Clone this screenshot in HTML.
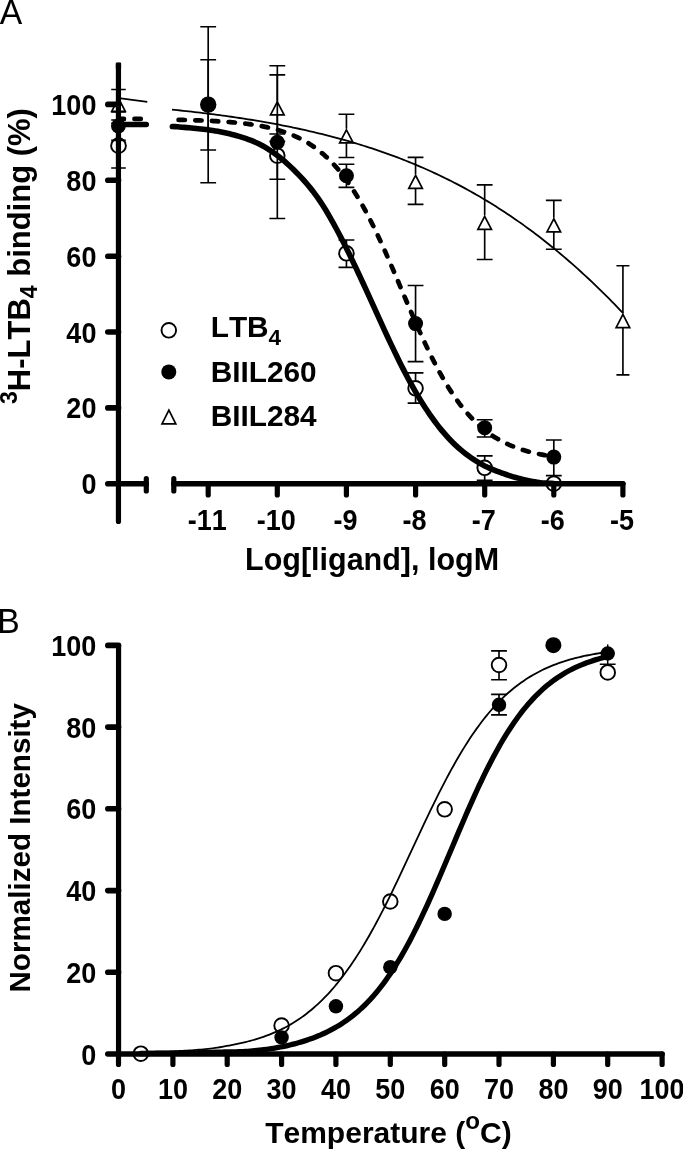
<!DOCTYPE html>
<html><head><meta charset="utf-8"><title>Figure</title>
<style>html,body{margin:0;padding:0;background:#fff}svg{display:block}text{font-kerning:none}</style></head>
<body>
<svg width="683" height="1149" viewBox="0 0 683 1149">
<rect width="683" height="1149" fill="#fff"/>
<text transform="translate(-0.3,23.7) scale(1,1.04)" font-size="33.7" font-family="Liberation Sans, Arial, Helvetica, sans-serif" fill="#000">A</text>
<text transform="translate(-2.7,632.8) scale(1,1.04)" font-size="33.7" font-family="Liberation Sans, Arial, Helvetica, sans-serif" fill="#000">B</text>
<path d="M172.00,109.64 L174.82,109.93 L177.64,110.22 L180.45,110.51 L183.27,110.81 L186.09,111.11 L188.91,111.42 L191.73,111.73 L194.55,112.05 L197.36,112.38 L200.18,112.71 L203.00,113.05 L205.82,113.39 L208.64,113.74 L211.46,114.09 L214.27,114.45 L217.09,114.82 L219.91,115.20 L222.73,115.58 L225.55,115.96 L228.37,116.36 L231.18,116.76 L234.00,117.16 L236.82,117.58 L239.64,118.00 L242.46,118.43 L245.27,118.87 L248.09,119.31 L250.91,119.76 L253.73,120.22 L256.55,120.69 L259.37,121.17 L262.18,121.65 L265.00,122.14 L267.82,122.64 L270.64,123.15 L273.46,123.67 L276.28,124.20 L279.09,124.73 L281.91,125.28 L284.73,125.83 L287.55,126.39 L290.37,126.97 L293.18,127.55 L296.00,128.14 L298.82,128.75 L301.64,129.36 L304.46,129.98 L307.28,130.61 L310.09,131.26 L312.91,131.91 L315.73,132.58 L318.55,133.26 L321.37,133.95 L324.19,134.65 L327.00,135.36 L329.82,136.08 L332.64,136.81 L335.46,137.56 L338.28,138.32 L341.10,139.09 L343.91,139.88 L346.73,140.68 L349.55,141.49 L352.37,142.31 L355.19,143.15 L358.00,144.00 L360.82,144.86 L363.64,145.74 L366.46,146.64 L369.28,147.54 L372.10,148.47 L374.91,149.40 L377.73,150.35 L380.55,151.32 L383.37,152.30 L386.19,153.30 L389.01,154.31 L391.82,155.34 L394.64,156.39 L397.46,157.45 L400.28,158.53 L403.10,159.62 L405.91,160.74 L408.73,161.87 L411.55,163.01 L414.37,164.18 L417.19,165.36 L420.01,166.56 L422.82,167.78 L425.64,169.02 L428.46,170.27 L431.28,171.55 L434.10,172.84 L436.92,174.16 L439.73,175.49 L442.55,176.84 L445.37,178.22 L448.19,179.61 L451.01,181.02 L453.82,182.46 L456.64,183.91 L459.46,185.39 L462.28,186.89 L465.10,188.41 L467.92,189.95 L470.73,191.51 L473.55,193.09 L476.37,194.70 L479.19,196.33 L482.01,197.98 L484.83,199.66 L487.64,201.36 L490.46,203.08 L493.28,204.82 L496.10,206.59 L498.92,208.39 L501.74,210.20 L504.55,212.05 L507.37,213.91 L510.19,215.80 L513.01,217.72 L515.83,219.66 L518.64,221.62 L521.46,223.61 L524.28,225.63 L527.10,227.67 L529.92,229.74 L532.74,231.83 L535.55,233.95 L538.37,236.09 L541.19,238.26 L544.01,240.46 L546.83,242.69 L549.65,244.94 L552.46,247.22 L555.28,249.52 L558.10,251.85 L560.92,254.21 L563.74,256.59 L566.56,259.01 L569.37,261.45 L572.19,263.91 L575.01,266.41 L577.83,268.93 L580.65,271.48 L583.46,274.05 L586.28,276.65 L589.10,279.28 L591.92,281.94 L594.74,284.63 L597.56,287.34 L600.37,290.08 L603.19,292.84 L606.01,295.64 L608.83,298.46 L611.65,301.31 L614.47,304.18 L617.28,307.08 L620.10,310.01 L622.92,312.97" fill="none" stroke="#000" stroke-width="1.8"/>
<path d="M178.60,119.87 L180.95,119.92 L183.29,119.97 L185.64,120.02 L187.98,120.08 L190.33,120.14 L192.67,120.21 L195.01,120.28 L197.36,120.35 L199.70,120.43 L202.05,120.52 L204.39,120.61 L206.74,120.71 L209.09,120.81 L211.43,120.92 L213.78,121.04 L216.12,121.17 L218.47,121.30 L220.81,121.44 L223.16,121.59 L225.50,121.76 L227.84,121.93 L230.19,122.11 L232.53,122.31 L234.88,122.52 L237.22,122.74 L239.57,122.98 L241.92,123.23 L244.26,123.50 L246.61,123.79 L248.95,124.09 L251.30,124.42 L253.64,124.77 L255.99,125.14 L258.33,125.53 L260.67,125.95 L263.02,126.39 L265.37,126.86 L267.71,127.37 L270.06,127.90 L272.40,128.47 L274.75,129.08 L277.09,129.72 L279.44,130.41 L281.78,131.13 L284.13,131.91 L286.47,132.72 L288.81,133.59 L291.16,134.52 L293.50,135.50 L295.85,136.53 L298.19,137.63 L300.54,138.80 L302.88,140.03 L305.23,141.34 L307.58,142.72 L309.92,144.18 L312.27,145.73 L314.61,147.36 L316.96,149.08 L319.30,150.90 L321.65,152.81 L323.99,154.83 L326.33,156.96 L328.68,159.19 L331.02,161.54 L333.37,164.00 L335.72,166.59 L338.06,169.29 L340.41,172.13 L342.75,175.10 L345.09,178.19 L347.44,181.43 L349.78,184.79 L352.13,188.30 L354.47,191.94 L356.82,195.72 L359.16,199.64 L361.51,203.70 L363.86,207.89 L366.20,212.21 L368.55,216.66 L370.89,221.24 L373.24,225.94 L375.58,230.76 L377.93,235.69 L380.27,240.72 L382.62,245.84 L384.96,251.05 L387.31,256.34 L389.65,261.70 L392.00,267.12 L394.34,272.58 L396.69,278.08 L399.03,283.61 L401.38,289.15 L403.72,294.70 L406.07,300.23 L408.41,305.74 L410.75,311.23 L413.10,316.67 L415.44,322.05 L417.79,327.37 L420.14,332.62 L422.48,337.79 L424.82,342.86 L427.17,347.83 L429.51,352.70 L431.86,357.45 L434.21,362.09 L436.55,366.60 L438.89,370.98 L441.24,375.23 L443.59,379.35 L445.93,383.33 L448.27,387.17 L450.62,390.88 L452.96,394.44 L455.31,397.87 L457.65,401.16 L460.00,404.32 L462.35,407.35 L464.69,410.24 L467.04,413.01 L469.38,415.65 L471.73,418.16 L474.07,420.56 L476.42,422.85 L478.76,425.02 L481.11,427.09 L483.45,429.05 L485.80,430.91 L488.14,432.67 L490.49,434.34 L492.83,435.93 L495.18,437.42 L497.52,438.84 L499.87,440.18 L502.21,441.45 L504.56,442.64 L506.90,443.77 L509.25,444.84 L511.59,445.84 L513.93,446.79 L516.28,447.68 L518.62,448.53 L520.97,449.32 L523.32,450.07 L525.66,450.77 L528.01,451.43 L530.35,452.05 L532.70,452.64 L535.04,453.19 L537.38,453.71 L539.73,454.19 L542.08,454.65 L544.42,455.08 L546.77,455.48 L549.11,455.86 L551.45,456.22 L553.80,456.56" fill="none" stroke="#000" stroke-width="4.7" stroke-dasharray="6.3 10.4" stroke-linecap="round"/>
<path d="M172.40,126.49 L174.78,126.65 L177.17,126.83 L179.55,127.02 L181.93,127.21 L184.32,127.41 L186.70,127.60 L189.09,127.80 L191.47,128.00 L193.85,128.21 L196.24,128.44 L198.62,128.68 L201.00,128.93 L203.39,129.20 L205.77,129.50 L208.16,129.82 L210.54,130.17 L212.92,130.53 L215.31,130.92 L217.69,131.34 L220.07,131.78 L222.46,132.24 L224.84,132.74 L227.23,133.26 L229.61,133.82 L231.99,134.41 L234.38,135.03 L236.76,135.69 L239.15,136.38 L241.53,137.10 L243.91,137.86 L246.30,138.67 L248.68,139.53 L251.06,140.44 L253.45,141.42 L255.83,142.46 L258.22,143.56 L260.60,144.75 L262.98,146.01 L265.37,147.37 L267.75,148.81 L270.13,150.34 L272.52,151.95 L274.90,153.64 L277.29,155.41 L279.67,157.27 L282.05,159.21 L284.44,161.22 L286.82,163.32 L289.20,165.49 L291.59,167.73 L293.97,170.06 L296.36,172.45 L298.74,174.90 L301.12,177.41 L303.51,180.01 L305.89,182.70 L308.27,185.49 L310.66,188.40 L313.04,191.43 L315.42,194.61 L317.81,197.93 L320.19,201.42 L322.58,205.06 L324.96,208.85 L327.34,212.78 L329.73,216.85 L332.11,221.04 L334.49,225.35 L336.88,229.76 L339.26,234.28 L341.65,238.88 L344.03,243.56 L346.41,248.31 L348.80,253.12 L351.18,257.98 L353.56,262.91 L355.95,267.91 L358.33,272.97 L360.72,278.08 L363.10,283.24 L365.48,288.43 L367.87,293.66 L370.25,298.90 L372.63,304.16 L375.02,309.43 L377.40,314.69 L379.79,319.93 L382.17,325.15 L384.55,330.35 L386.94,335.50 L389.32,340.61 L391.71,345.67 L394.09,350.66 L396.47,355.59 L398.86,360.44 L401.24,365.21 L403.62,369.89 L406.01,374.48 L408.39,378.98 L410.77,383.37 L413.16,387.67 L415.54,391.85 L417.93,395.92 L420.31,399.89 L422.69,403.73 L425.08,407.47 L427.46,411.08 L429.85,414.59 L432.23,417.97 L434.61,421.24 L437.00,424.39 L439.38,427.44 L441.76,430.36 L444.15,433.18 L446.53,435.89 L448.91,438.49 L451.30,440.98 L453.68,443.38 L456.07,445.67 L458.45,447.85 L460.83,449.94 L463.22,451.92 L465.60,453.81 L467.99,455.60 L470.37,457.31 L472.75,458.93 L475.14,460.47 L477.52,461.93 L479.90,463.32 L482.29,464.64 L484.67,465.89 L487.06,467.07 L489.44,468.16 L491.82,469.19 L494.21,470.15 L496.59,471.07 L498.97,471.95 L501.36,472.82 L503.74,473.68 L506.13,474.51 L508.51,475.32 L510.89,476.08 L513.28,476.81 L515.66,477.50 L518.04,478.16 L520.43,478.78 L522.81,479.37 L525.20,479.93 L527.58,480.44 L529.96,480.92 L532.35,481.38 L534.73,481.81 L537.11,482.22 L539.50,482.61 L541.88,482.92 L544.27,483.09 L546.65,483.17 L549.03,483.23 L551.42,483.32 L553.80,483.53" fill="none" stroke="#000" stroke-width="5.6" stroke-linecap="round"/>
<path d="M120.9,98.3 L147.3,101.8" stroke="#000" stroke-width="1.8" fill="none"/>
<path d="M118.5,118.9 H123.9 M134.5,118.9 H140.7" stroke="#000" stroke-width="4.8" stroke-linecap="round" fill="none"/>
<path d="M118.5,124.4 H146.3" stroke="#000" stroke-width="5.5" stroke-linecap="round" fill="none"/>
<path d="M118.50,89.50 V97.25 M118.50,111.35 V120.00 M111.20,89.50 H125.80 M111.20,120.00 H125.80" stroke="#000" stroke-width="1.65" fill="none"/>
<path d="M118.50,123.30 V137.80 M118.50,153.60 V168.00 M111.20,123.30 H125.80 M111.20,168.00 H125.80" stroke="#000" stroke-width="1.65" fill="none"/>
<path d="M118.50,112.00 V140.40 M111.20,112.00 H125.80 M111.20,140.40 H125.80" stroke="#000" stroke-width="1.65" fill="none"/>
<path d="M118.50,98.25 L125.30,111.35 L111.70,111.35 Z" fill="none" stroke="#000" stroke-width="1.70" stroke-linejoin="miter"/>
<circle cx="118.50" cy="145.70" r="7.40" fill="none" stroke="#000" stroke-width="1.90"/>
<path d="M208.20,26.70 V182.70 M200.30,26.70 H216.10 M200.30,182.70 H216.10" stroke="#000" stroke-width="1.65" fill="none"/>
<path d="M208.20,59.70 V150.00 M200.30,59.70 H216.10 M200.30,150.00 H216.10" stroke="#000" stroke-width="1.65" fill="none"/>
<path d="M277.32,65.70 V218.50 M269.42,65.70 H285.22 M269.42,218.50 H285.22" stroke="#000" stroke-width="1.65" fill="none"/>
<path d="M277.32,74.80 V100.85 M277.32,114.95 V141.20 M269.42,74.80 H285.22 M269.42,141.20 H285.22" stroke="#000" stroke-width="1.65" fill="none"/>
<path d="M277.32,134.00 V147.90 M277.32,163.50 V179.20 M269.42,134.00 H285.22 M269.42,179.20 H285.22" stroke="#000" stroke-width="1.65" fill="none"/>
<path d="M346.44,114.20 V128.85 M346.44,142.95 V157.50 M338.54,114.20 H354.34 M338.54,157.50 H354.34" stroke="#000" stroke-width="1.65" fill="none"/>
<path d="M346.44,164.20 V187.40 M338.54,164.20 H354.34 M338.54,187.40 H354.34" stroke="#000" stroke-width="1.65" fill="none"/>
<path d="M346.44,240.00 V245.50 M346.44,261.10 V267.30 M338.54,240.00 H354.34 M338.54,267.30 H354.34" stroke="#000" stroke-width="1.65" fill="none"/>
<path d="M415.56,157.30 V174.25 M415.56,188.35 V204.40 M407.66,157.30 H423.46 M407.66,204.40 H423.46" stroke="#000" stroke-width="1.65" fill="none"/>
<path d="M415.56,285.50 V361.60 M407.66,285.50 H423.46 M407.66,361.60 H423.46" stroke="#000" stroke-width="1.65" fill="none"/>
<path d="M415.56,372.90 V380.50 M415.56,396.10 V403.10 M407.66,372.90 H423.46 M407.66,403.10 H423.46" stroke="#000" stroke-width="1.65" fill="none"/>
<path d="M484.68,184.90 V215.35 M484.68,229.45 V259.50 M476.78,184.90 H492.58 M476.78,259.50 H492.58" stroke="#000" stroke-width="1.65" fill="none"/>
<path d="M484.68,419.70 V437.00 M476.78,419.70 H492.58 M476.78,437.00 H492.58" stroke="#000" stroke-width="1.65" fill="none"/>
<path d="M484.68,455.80 V460.00 M484.68,475.60 V480.20 M476.78,455.80 H492.58 M476.78,480.20 H492.58" stroke="#000" stroke-width="1.65" fill="none"/>
<path d="M553.80,200.30 V217.75 M553.80,231.85 V249.20 M545.90,200.30 H561.70 M545.90,249.20 H561.70" stroke="#000" stroke-width="1.65" fill="none"/>
<path d="M553.80,440.00 V475.60 M545.90,440.00 H561.70 M545.90,475.60 H561.70" stroke="#000" stroke-width="1.65" fill="none"/>
<path d="M622.92,265.70 V313.45 M622.92,327.55 V374.90 M616.42,265.70 H629.42 M616.42,374.90 H629.42" stroke="#000" stroke-width="1.65" fill="none"/>
<path d="M277.32,101.85 L284.12,114.95 L270.52,114.95 Z" fill="none" stroke="#000" stroke-width="1.70" stroke-linejoin="miter"/>
<path d="M346.44,129.85 L353.24,142.95 L339.64,142.95 Z" fill="none" stroke="#000" stroke-width="1.70" stroke-linejoin="miter"/>
<path d="M415.56,175.25 L422.36,188.35 L408.76,188.35 Z" fill="none" stroke="#000" stroke-width="1.70" stroke-linejoin="miter"/>
<path d="M484.68,216.35 L491.48,229.45 L477.88,229.45 Z" fill="none" stroke="#000" stroke-width="1.70" stroke-linejoin="miter"/>
<path d="M553.80,218.75 L560.60,231.85 L547.00,231.85 Z" fill="none" stroke="#000" stroke-width="1.70" stroke-linejoin="miter"/>
<path d="M622.92,314.45 L629.72,327.55 L616.12,327.55 Z" fill="none" stroke="#000" stroke-width="1.70" stroke-linejoin="miter"/>
<circle cx="277.32" cy="155.70" r="7.30" fill="none" stroke="#000" stroke-width="1.90"/>
<circle cx="346.44" cy="253.30" r="7.30" fill="none" stroke="#000" stroke-width="1.90"/>
<circle cx="415.56" cy="388.30" r="7.30" fill="none" stroke="#000" stroke-width="1.90"/>
<circle cx="484.68" cy="467.80" r="7.30" fill="none" stroke="#000" stroke-width="1.90"/>
<circle cx="553.80" cy="483.70" r="7.30" fill="none" stroke="#000" stroke-width="1.90"/>
<circle cx="118.40" cy="126.00" r="7.40" fill="#000"/>
<circle cx="208.20" cy="104.60" r="8.20" fill="#000"/>
<circle cx="277.32" cy="142.30" r="7.50" fill="#000"/>
<circle cx="346.44" cy="175.80" r="7.50" fill="#000"/>
<circle cx="415.56" cy="323.60" r="7.50" fill="#000"/>
<circle cx="484.68" cy="427.80" r="7.50" fill="#000"/>
<circle cx="553.80" cy="457.10" r="7.50" fill="#000"/>
<g stroke="#000" stroke-width="5.2" fill="none" stroke-linecap="round">
<path d="M118.45,65.2 V521.5"/>
<path d="M146.3,478.6 V491.0 M173.8,478.6 V491.0"/>
<path d="M208.2,483.8 V495.0"/>
<path d="M277.3,483.8 V495.0"/>
<path d="M346.4,483.8 V495.0"/>
<path d="M415.6,483.8 V495.0"/>
<path d="M484.7,483.8 V495.0"/>
<path d="M553.8,483.8 V495.0"/>
<path d="M622.9,483.8 V495.0"/>
</g>
<g stroke="#000" stroke-width="5.6" fill="none" stroke-linecap="round">
<path d="M107.8,407.9 H118.5"/>
<path d="M107.8,332.0 H118.5"/>
<path d="M107.8,256.2 H118.5"/>
<path d="M107.8,180.3 H118.5"/>
<path d="M107.8,104.4 H118.5"/>
<path d="M107.8,483.8 H146.3 M173.8,483.8 H622.9"/>
</g>
<rect x="115.8" y="62.6" width="5.3" height="6" fill="#000"/>
<text transform="translate(96.4,494.3) scale(1,1.07)" text-anchor="end" font-size="27" font-weight="bold" font-family="Liberation Sans, Arial, Helvetica, sans-serif">0</text>
<text transform="translate(96.4,418.4) scale(1,1.07)" text-anchor="end" font-size="27" font-weight="bold" font-family="Liberation Sans, Arial, Helvetica, sans-serif">20</text>
<text transform="translate(96.4,342.5) scale(1,1.07)" text-anchor="end" font-size="27" font-weight="bold" font-family="Liberation Sans, Arial, Helvetica, sans-serif">40</text>
<text transform="translate(96.4,266.7) scale(1,1.07)" text-anchor="end" font-size="27" font-weight="bold" font-family="Liberation Sans, Arial, Helvetica, sans-serif">60</text>
<text transform="translate(96.4,190.8) scale(1,1.07)" text-anchor="end" font-size="27" font-weight="bold" font-family="Liberation Sans, Arial, Helvetica, sans-serif">80</text>
<text transform="translate(96.4,114.9) scale(1,1.07)" text-anchor="end" font-size="27" font-weight="bold" font-family="Liberation Sans, Arial, Helvetica, sans-serif">100</text>
<text transform="translate(207.2,529.8) scale(1,1.07)" text-anchor="middle" font-size="27" font-weight="bold" font-family="Liberation Sans, Arial, Helvetica, sans-serif">-11</text>
<text transform="translate(276.3,529.8) scale(1,1.07)" text-anchor="middle" font-size="27" font-weight="bold" font-family="Liberation Sans, Arial, Helvetica, sans-serif">-10</text>
<text transform="translate(345.4,529.8) scale(1,1.07)" text-anchor="middle" font-size="27" font-weight="bold" font-family="Liberation Sans, Arial, Helvetica, sans-serif">-9</text>
<text transform="translate(414.6,529.8) scale(1,1.07)" text-anchor="middle" font-size="27" font-weight="bold" font-family="Liberation Sans, Arial, Helvetica, sans-serif">-8</text>
<text transform="translate(483.7,529.8) scale(1,1.07)" text-anchor="middle" font-size="27" font-weight="bold" font-family="Liberation Sans, Arial, Helvetica, sans-serif">-7</text>
<text transform="translate(552.8,529.8) scale(1,1.07)" text-anchor="middle" font-size="27" font-weight="bold" font-family="Liberation Sans, Arial, Helvetica, sans-serif">-6</text>
<text transform="translate(621.9,529.8) scale(1,1.07)" text-anchor="middle" font-size="27" font-weight="bold" font-family="Liberation Sans, Arial, Helvetica, sans-serif">-5</text>
<text x="245" y="570.3" font-size="30.5" font-weight="bold" font-family="Liberation Sans, Arial, Helvetica, sans-serif">Log[ligand], logM</text>
<text transform="translate(30.3,404) rotate(-90)" font-size="31.0" font-weight="bold" font-family="Liberation Sans, Arial, Helvetica, sans-serif"><tspan font-size="23" dy="-13.2">3</tspan><tspan dy="13.2">H-LTB</tspan><tspan font-size="23" dy="7">4</tspan><tspan dy="-7"> binding (%)</tspan></text>
<circle cx="168.80" cy="330.30" r="7.30" fill="none" stroke="#000" stroke-width="1.90"/>
<circle cx="168.80" cy="371.90" r="7.50" fill="#000"/>
<path d="M168.90,410.05 L175.80,423.95 L162.00,423.95 Z" fill="none" stroke="#000" stroke-width="1.70" stroke-linejoin="miter"/>
<text x="210.7" y="336.7" font-size="29.8" font-weight="bold" font-family="Liberation Sans, Arial, Helvetica, sans-serif">LTB<tspan font-size="22.5" dy="8">4</tspan></text>
<text x="210.7" y="381.8" font-size="29.8" font-weight="bold" font-family="Liberation Sans, Arial, Helvetica, sans-serif">BIIL260</text>
<text x="210.7" y="426.2" font-size="29.8" font-weight="bold" font-family="Liberation Sans, Arial, Helvetica, sans-serif">BIIL284</text>
<path d="M140.24,1051.71 L142.58,1051.69 L144.92,1051.66 L147.26,1051.63 L149.59,1051.59 L151.93,1051.56 L154.27,1051.54 L156.61,1051.52 L158.94,1051.50 L161.28,1051.48 L163.62,1051.45 L165.96,1051.42 L168.29,1051.39 L170.63,1051.34 L172.97,1051.28 L175.31,1051.21 L177.64,1051.12 L179.98,1051.01 L182.32,1050.88 L184.66,1050.75 L186.99,1050.60 L189.33,1050.45 L191.67,1050.29 L194.01,1050.12 L196.34,1049.94 L198.68,1049.74 L201.02,1049.54 L203.36,1049.32 L205.69,1049.09 L208.03,1048.84 L210.37,1048.58 L212.71,1048.30 L215.04,1047.98 L217.38,1047.63 L219.72,1047.24 L222.06,1046.83 L224.39,1046.41 L226.73,1045.97 L229.07,1045.53 L231.41,1045.10 L233.74,1044.64 L236.08,1044.17 L238.42,1043.68 L240.76,1043.17 L243.09,1042.64 L245.43,1042.08 L247.77,1041.50 L250.11,1040.89 L252.44,1040.25 L254.78,1039.57 L257.12,1038.87 L259.46,1038.13 L261.79,1037.36 L264.13,1036.55 L266.47,1035.71 L268.81,1034.83 L271.14,1033.91 L273.48,1032.94 L275.82,1031.93 L278.16,1030.88 L280.49,1029.78 L282.83,1028.63 L285.17,1027.43 L287.51,1026.18 L289.84,1024.87 L292.18,1023.50 L294.52,1022.06 L296.86,1020.56 L299.19,1019.00 L301.53,1017.37 L303.87,1015.67 L306.21,1013.91 L308.54,1012.08 L310.88,1010.18 L313.22,1008.21 L315.56,1006.17 L317.89,1004.06 L320.23,1001.87 L322.57,999.59 L324.90,997.24 L327.24,994.80 L329.58,992.28 L331.92,989.67 L334.25,986.97 L336.59,984.17 L338.93,981.28 L341.27,978.29 L343.60,975.21 L345.94,972.04 L348.28,968.78 L350.62,965.43 L352.95,961.99 L355.29,958.47 L357.63,954.87 L359.97,951.17 L362.30,947.37 L364.64,943.49 L366.98,939.51 L369.32,935.45 L371.65,931.30 L373.99,927.06 L376.33,922.74 L378.67,918.35 L381.00,913.88 L383.34,909.33 L385.68,904.72 L388.02,900.05 L390.35,895.32 L392.69,890.53 L395.03,885.70 L397.37,880.82 L399.70,875.91 L402.04,870.96 L404.38,865.98 L406.72,860.99 L409.05,855.97 L411.39,850.95 L413.73,845.93 L416.07,840.91 L418.40,835.90 L420.74,830.91 L423.08,825.94 L425.42,820.99 L427.75,816.08 L430.09,811.21 L432.43,806.38 L434.77,801.60 L437.10,796.88 L439.44,792.21 L441.78,787.61 L444.12,783.08 L446.45,778.61 L448.79,774.23 L451.13,769.92 L453.47,765.70 L455.80,761.56 L458.14,757.50 L460.48,753.54 L462.82,749.66 L465.15,745.88 L467.49,742.19 L469.83,738.60 L472.17,735.10 L474.50,731.69 L476.84,728.39 L479.18,725.17 L481.52,722.06 L483.85,719.03 L486.19,716.10 L488.53,713.27 L490.87,710.52 L493.20,707.87 L495.54,705.31 L497.88,702.83 L500.22,700.44 L502.55,698.14 L504.89,695.92 L507.23,693.77 L509.57,691.71 L511.90,689.73 L514.24,687.82 L516.58,685.98 L518.92,684.22 L521.25,682.52 L523.59,680.90 L525.93,679.33 L528.27,677.83 L530.60,676.39 L532.94,675.01 L535.28,673.69 L537.62,672.43 L539.95,671.21 L542.29,670.05 L544.63,668.93 L546.97,667.87 L549.30,666.85 L551.64,665.87 L553.98,664.94 L556.32,664.05 L558.65,663.19 L560.99,662.38 L563.33,661.60 L565.67,660.86 L568.00,660.14 L570.34,659.46 L572.68,658.82 L575.02,658.20 L577.35,657.60 L579.69,657.04 L582.03,656.50 L584.37,655.99 L586.70,655.50 L589.04,655.03 L591.38,654.58 L593.72,654.15 L596.05,653.75 L598.39,653.36 L600.73,652.99 L603.07,652.64 L605.40,652.30 L607.74,651.98" fill="none" stroke="#000" stroke-width="1.8"/>
<path d="M140.24,1053.56 L142.58,1053.54 L144.92,1053.53 L147.26,1053.51 L149.59,1053.49 L151.93,1053.47 L154.27,1053.45 L156.61,1053.43 L158.94,1053.40 L161.28,1053.38 L163.62,1053.35 L165.96,1053.32 L168.29,1053.29 L170.63,1053.26 L172.97,1053.23 L175.31,1053.20 L177.64,1053.16 L179.98,1053.12 L182.32,1053.08 L184.66,1053.04 L186.99,1052.99 L189.33,1052.94 L191.67,1052.89 L194.01,1052.84 L196.34,1052.78 L198.68,1052.72 L201.02,1052.66 L203.36,1052.59 L205.69,1052.52 L208.03,1052.45 L210.37,1052.37 L212.71,1052.29 L215.04,1052.22 L217.38,1052.16 L219.72,1052.10 L222.06,1052.06 L224.39,1052.01 L226.73,1051.97 L229.07,1051.93 L231.41,1051.89 L233.74,1051.84 L236.08,1051.78 L238.42,1051.71 L240.76,1051.63 L243.09,1051.53 L245.43,1051.41 L247.77,1051.28 L250.11,1051.12 L252.44,1050.93 L254.78,1050.72 L257.12,1050.48 L259.46,1050.23 L261.79,1049.95 L264.13,1049.65 L266.47,1049.34 L268.81,1049.00 L271.14,1048.64 L273.48,1048.26 L275.82,1047.86 L278.16,1047.44 L280.49,1047.00 L282.83,1046.54 L285.17,1046.05 L287.51,1045.54 L289.84,1045.01 L292.18,1044.45 L294.52,1043.86 L296.86,1043.23 L299.19,1042.57 L301.53,1041.87 L303.87,1041.14 L306.21,1040.38 L308.54,1039.58 L310.88,1038.75 L313.22,1037.89 L315.56,1037.00 L317.89,1036.06 L320.23,1035.08 L322.57,1034.05 L324.90,1032.98 L327.24,1031.85 L329.58,1030.68 L331.92,1029.45 L334.25,1028.17 L336.59,1026.83 L338.93,1025.42 L341.27,1023.95 L343.60,1022.41 L345.94,1020.81 L348.28,1019.13 L350.62,1017.38 L352.95,1015.56 L355.29,1013.66 L357.63,1011.69 L359.97,1009.62 L362.30,1007.47 L364.64,1005.22 L366.98,1002.87 L369.32,1000.43 L371.65,997.89 L373.99,995.24 L376.33,992.49 L378.67,989.63 L381.00,986.66 L383.34,983.58 L385.68,980.39 L388.02,977.08 L390.35,973.66 L392.69,970.13 L395.03,966.47 L397.37,962.71 L399.70,958.82 L402.04,954.82 L404.38,950.71 L406.72,946.48 L409.05,942.14 L411.39,937.69 L413.73,933.14 L416.07,928.48 L418.40,923.72 L420.74,918.87 L423.08,913.93 L425.42,908.90 L427.75,903.79 L430.09,898.61 L432.43,893.35 L434.77,888.04 L437.10,882.67 L439.44,877.25 L441.78,871.79 L444.12,866.30 L446.45,860.79 L448.79,855.26 L451.13,849.72 L453.47,844.18 L455.80,838.65 L458.14,833.13 L460.48,827.64 L462.82,822.18 L465.15,816.76 L467.49,811.39 L469.83,806.07 L472.17,800.81 L474.50,795.63 L476.84,790.51 L479.18,785.48 L481.52,780.53 L483.85,775.68 L486.19,770.92 L488.53,766.25 L490.87,761.70 L493.20,757.24 L495.54,752.90 L497.88,748.67 L500.22,744.55 L502.55,740.54 L504.89,736.65 L507.23,732.88 L509.57,729.22 L511.90,725.68 L514.24,722.25 L516.58,718.94 L518.92,715.74 L521.25,712.66 L523.59,709.68 L525.93,706.82 L528.27,704.06 L530.60,701.41 L532.94,698.86 L535.28,696.41 L537.62,694.07 L539.95,691.81 L542.29,689.65 L544.63,687.58 L546.97,685.60 L549.30,683.71 L551.64,681.89 L553.98,680.16 L556.32,678.50 L558.65,676.92 L560.99,675.41 L563.33,673.97 L565.67,672.59 L568.00,671.28 L570.34,670.03 L572.68,668.84 L575.02,667.70 L577.35,666.62 L579.69,665.59 L582.03,664.61 L584.37,663.67 L586.70,662.79 L589.04,661.94 L591.38,661.14 L593.72,660.38 L596.05,659.65 L598.39,658.96 L600.73,658.31 L603.07,657.68 L605.40,657.09 L607.74,656.53" fill="none" stroke="#000" stroke-width="5.3" stroke-linecap="round"/>
<path d="M499.02,650.90 V657.20 M499.02,672.80 V679.70 M491.12,650.90 H506.92 M491.12,679.70 H506.92" stroke="#000" stroke-width="1.65" fill="none"/>
<path d="M499.02,694.40 V714.90 M491.12,694.40 H506.92 M491.12,714.90 H506.92" stroke="#000" stroke-width="1.65" fill="none"/>
<path d="M607.7,660 V664.2 M599.8,664.2 H615.6" stroke="#000" stroke-width="1.5" fill="none"/>
<path d="M607.7,644.4 V650" stroke="#000" stroke-width="1.5"/>
<circle cx="140.80" cy="1053.70" r="7.30" fill="none" stroke="#000" stroke-width="1.90"/>
<circle cx="281.58" cy="1025.50" r="7.30" fill="none" stroke="#000" stroke-width="1.90"/>
<circle cx="335.94" cy="973.20" r="7.30" fill="none" stroke="#000" stroke-width="1.90"/>
<circle cx="390.30" cy="901.50" r="7.30" fill="none" stroke="#000" stroke-width="1.90"/>
<circle cx="444.66" cy="809.30" r="7.30" fill="none" stroke="#000" stroke-width="1.90"/>
<circle cx="499.02" cy="665.00" r="7.30" fill="none" stroke="#000" stroke-width="1.90"/>
<circle cx="607.74" cy="672.40" r="7.30" fill="none" stroke="#000" stroke-width="1.90"/>
<circle cx="281.58" cy="1037.40" r="7.20" fill="#000"/>
<circle cx="335.94" cy="1006.30" r="7.20" fill="#000"/>
<circle cx="390.30" cy="967.20" r="7.20" fill="#000"/>
<circle cx="444.66" cy="913.90" r="7.20" fill="#000"/>
<circle cx="499.02" cy="704.80" r="7.20" fill="#000"/>
<circle cx="607.74" cy="653.50" r="7.20" fill="#000"/>
<circle cx="553.38" cy="645.20" r="8.00" fill="#000"/>
<g stroke="#000" stroke-width="5.2" fill="none" stroke-linecap="round">
<path d="M118.55,645.5 V1054.0"/>
<path d="M118.5,1054.0 V1064.5"/>
<path d="M172.9,1054.0 V1064.5"/>
<path d="M227.2,1054.0 V1064.5"/>
<path d="M281.6,1054.0 V1064.5"/>
<path d="M335.9,1054.0 V1064.5"/>
<path d="M390.3,1054.0 V1064.5"/>
<path d="M444.7,1054.0 V1064.5"/>
<path d="M499.0,1054.0 V1064.5"/>
<path d="M553.4,1054.0 V1064.5"/>
<path d="M607.7,1054.0 V1064.5"/>
<path d="M662.1,1054.0 V1064.5"/>
</g>
<g stroke="#000" stroke-width="5.6" fill="none" stroke-linecap="round">
<path d="M107.8,972.3 H118.5"/>
<path d="M107.8,890.6 H118.5"/>
<path d="M107.8,808.8 H118.5"/>
<path d="M107.8,727.1 H118.5"/>
<path d="M107.8,645.4 H118.5"/>
<path d="M107.8,1054.0 H662.1"/>
</g>
<text transform="translate(96.2,1064.5) scale(1,1.07)" text-anchor="end" font-size="27" font-weight="bold" font-family="Liberation Sans, Arial, Helvetica, sans-serif">0</text>
<text transform="translate(96.2,982.8) scale(1,1.07)" text-anchor="end" font-size="27" font-weight="bold" font-family="Liberation Sans, Arial, Helvetica, sans-serif">20</text>
<text transform="translate(96.2,901.1) scale(1,1.07)" text-anchor="end" font-size="27" font-weight="bold" font-family="Liberation Sans, Arial, Helvetica, sans-serif">40</text>
<text transform="translate(96.2,819.3) scale(1,1.07)" text-anchor="end" font-size="27" font-weight="bold" font-family="Liberation Sans, Arial, Helvetica, sans-serif">60</text>
<text transform="translate(96.2,737.6) scale(1,1.07)" text-anchor="end" font-size="27" font-weight="bold" font-family="Liberation Sans, Arial, Helvetica, sans-serif">80</text>
<text transform="translate(96.2,655.9) scale(1,1.07)" text-anchor="end" font-size="27" font-weight="bold" font-family="Liberation Sans, Arial, Helvetica, sans-serif">100</text>
<text transform="translate(118.5,1098.9) scale(1,1.07)" text-anchor="middle" font-size="27" font-weight="bold" font-family="Liberation Sans, Arial, Helvetica, sans-serif">0</text>
<text transform="translate(172.9,1098.9) scale(1,1.07)" text-anchor="middle" font-size="27" font-weight="bold" font-family="Liberation Sans, Arial, Helvetica, sans-serif">10</text>
<text transform="translate(227.2,1098.9) scale(1,1.07)" text-anchor="middle" font-size="27" font-weight="bold" font-family="Liberation Sans, Arial, Helvetica, sans-serif">20</text>
<text transform="translate(281.6,1098.9) scale(1,1.07)" text-anchor="middle" font-size="27" font-weight="bold" font-family="Liberation Sans, Arial, Helvetica, sans-serif">30</text>
<text transform="translate(335.9,1098.9) scale(1,1.07)" text-anchor="middle" font-size="27" font-weight="bold" font-family="Liberation Sans, Arial, Helvetica, sans-serif">40</text>
<text transform="translate(390.3,1098.9) scale(1,1.07)" text-anchor="middle" font-size="27" font-weight="bold" font-family="Liberation Sans, Arial, Helvetica, sans-serif">50</text>
<text transform="translate(444.7,1098.9) scale(1,1.07)" text-anchor="middle" font-size="27" font-weight="bold" font-family="Liberation Sans, Arial, Helvetica, sans-serif">60</text>
<text transform="translate(499.0,1098.9) scale(1,1.07)" text-anchor="middle" font-size="27" font-weight="bold" font-family="Liberation Sans, Arial, Helvetica, sans-serif">70</text>
<text transform="translate(553.4,1098.9) scale(1,1.07)" text-anchor="middle" font-size="27" font-weight="bold" font-family="Liberation Sans, Arial, Helvetica, sans-serif">80</text>
<text transform="translate(607.7,1098.9) scale(1,1.07)" text-anchor="middle" font-size="27" font-weight="bold" font-family="Liberation Sans, Arial, Helvetica, sans-serif">90</text>
<text transform="translate(662.1,1098.9) scale(1,1.07)" text-anchor="middle" font-size="27" font-weight="bold" font-family="Liberation Sans, Arial, Helvetica, sans-serif">100</text>
<text x="265.2" y="1142.5" font-size="30" font-weight="bold" font-family="Liberation Sans, Arial, Helvetica, sans-serif">Temperature (<tspan font-size="24.2" dy="-13.3">o</tspan><tspan dy="13.3">C)</tspan></text>
<text transform="translate(30.1,992.5) rotate(-90)" font-size="29.6" font-weight="bold" font-family="Liberation Sans, Arial, Helvetica, sans-serif">Normalized Intensity</text>
</svg>
</body></html>
